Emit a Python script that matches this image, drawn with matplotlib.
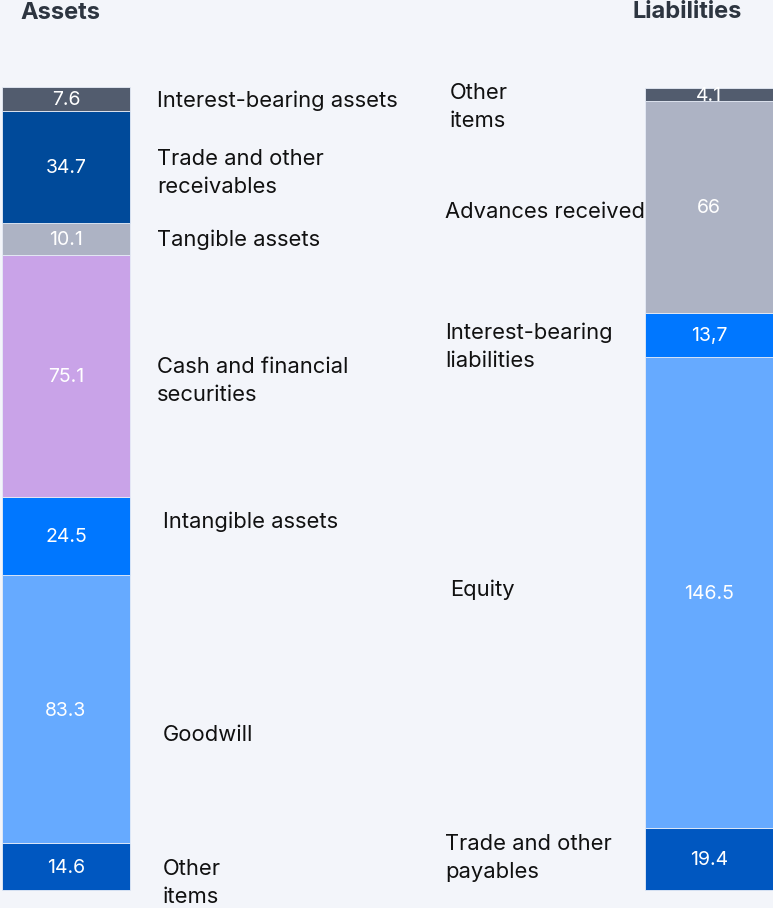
import matplotlib
matplotlib.use("Agg")
import matplotlib.pyplot as plt

asset_names = ["Other items", "Goodwill", "Intangible assets", "Cash and financial securities",
               "Tangible assets", "Trade and other receivables", "Interest-bearing assets"]
asset_values = [14.6, 83.3, 24.5, 75.1, 10.1, 34.7, 7.6]
asset_labels = ["14.6", "83.3", "24.5", "75.1", "10.1", "34.7", "7.6"]
asset_colors = ["#0057c0", "#66aaff", "#0077ff", "#c9a3e8", "#adb3c4", "#004a9a", "#525c6e"]

liab_names = ["Trade and other payables", "Equity", "Interest-bearing liabilities",
              "Advances received", "Other items"]
liab_values = [19.4, 146.5, 13.7, 66, 4.1]
liab_labels = ["19.4", "146.5", "13,7", "66", "4.1"]
liab_colors = ["#0057c0", "#66aaff", "#0077ff", "#adb3c4", "#525c6e"]

W, H = 773, 908
BG = "#f3f5fa"
plt.rcParams['font.family'] = ['Inter', 'DejaVu Sans']

fig = plt.figure(figsize=(W / 100, H / 100), dpi=100, facecolor=BG)
ax = fig.add_axes([0, 0, 1, 1])
ax.set_facecolor(BG)
ax.axis('off')

total = sum(asset_values)
ppu = (890 - 87) / total
ax.set_xlim(0, W)
ax.set_ylim(-(H - 890) / ppu, total + 87 / ppu)

def stack(xc, values, labels, colors):
    bottom = 0
    for v, lab, c in zip(values, labels, colors):
        ax.bar(xc, v, width=128, bottom=bottom, color=c, edgecolor="#e6ecf7", linewidth=0.6)
        ax.text(xc, bottom + v / 2 - 0.4, lab, ha='center', va='center', color='white', fontsize=14)
        bottom += v

stack(66, asset_values, asset_labels, asset_colors)
stack(709, liab_values, liab_labels, liab_colors)

def ptext(x, y, s, **kw):
    fig.text(x / W, 1 - y / H, s, **kw)

side = dict(ha='left', va='center', fontsize=15.8, color='#111111', linespacing=1.5)
ptext(157, 101, "Interest-bearing assets", **side)
ptext(157, 173, "Trade and other\nreceivables", **side)
ptext(157, 240, "Tangible assets", **side)
ptext(157, 381, "Cash and financial\nsecurities", **side)
ptext(163, 522, "Intangible assets", **side)
ptext(163, 735, "Goodwill", **side)
ptext(163, 883, "Other\nitems", **side)

ptext(450, 107, "Other\nitems", **side)
ptext(445, 212, "Advances received", **side)
ptext(445, 347, "Interest-bearing\nliabilities", **side)
ptext(450, 590, "Equity", **side)
ptext(445, 858, "Trade and other\npayables", **side)

ptext(20, 13, "Assets", ha='left', va='center', fontsize=17, fontweight='bold', color='#2d3540')
ptext(742, 12, "Liabilities", ha='right', va='center', fontsize=17, fontweight='bold', color='#2d3540')

fig.savefig("out.png", dpi=100, facecolor=BG)
